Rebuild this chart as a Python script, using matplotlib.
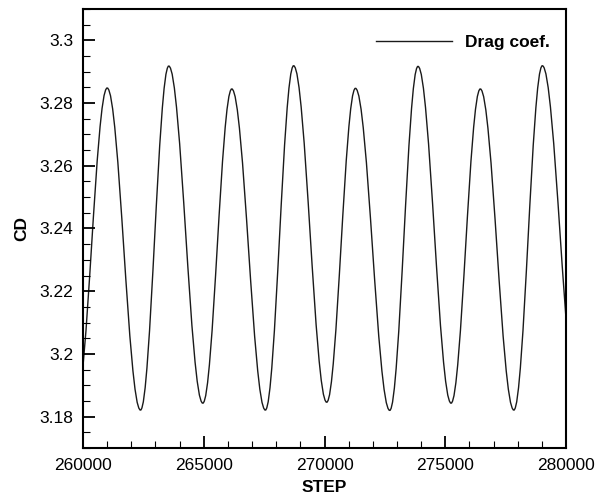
import matplotlib
matplotlib.use("Agg")
import matplotlib.pyplot as plt
from matplotlib.path import Path
from matplotlib.patches import PathPatch
from matplotlib.lines import Line2D
from matplotlib.ticker import MultipleLocator

plt.rcParams["font.family"] = ["Liberation Sans", "DejaVu Sans"]

# extrema of the drag coefficient
# (first and last trough lie just outside the plotted range)
peak_steps = [261000, 263550, 266160, 268720, 271280, 273870, 276450, 279020]
peak_cd = [3.2848, 3.2918, 3.2845, 3.2919, 3.2847, 3.2917, 3.2845, 3.2919]
trough_steps = [259710, 262380, 264960, 267550, 270090, 272700, 275240, 277840, 280490]
trough_cd = [3.1843, 3.1821, 3.1843, 3.1821, 3.1846, 3.1820, 3.1843, 3.1821, 3.1843]

x_ticks = [260000, 265000, 270000, 275000, 280000]
y_ticks = [3.18, 3.2, 3.22, 3.24, 3.26, 3.28, 3.3]
y_labels = ["3.18", "3.2", "3.22", "3.24", "3.26", "3.28", "3.3"]

FS = 12.5
LC = "#1a1a1a"

fig = plt.figure(figsize=(5.96, 5.0), dpi=100)
ax = fig.add_axes([0.1393, 0.104, 0.8104, 0.878])

# smooth curve through the extrema (cubic segments with flat tangents)
nodes = sorted(zip(peak_steps + trough_steps, peak_cd + trough_cd))
verts = [nodes[0]]
codes = [Path.MOVETO]
K = 0.364
for (x0, y0), (x1, y1) in zip(nodes[:-1], nodes[1:]):
    dx = x1 - x0
    verts += [(x0 + K * dx, y0), (x1 - K * dx, y1), (x1, y1)]
    codes += [Path.CURVE4] * 3
ax.add_patch(PathPatch(Path(verts, codes), fill=False, edgecolor=LC, lw=1.0))

ax.set_xlim(260000, 280000)
ax.set_ylim(3.17, 3.31)
ax.set_xticks(x_ticks)
ax.set_xticklabels([str(t) for t in x_ticks])
ax.set_yticks(y_ticks)
ax.set_yticklabels(y_labels)
ax.xaxis.set_minor_locator(MultipleLocator(1000))
ax.yaxis.set_minor_locator(MultipleLocator(0.005))
ax.tick_params(which="both", direction="in", top=False, right=False,
               labelsize=FS, pad=7, colors="black")
ax.tick_params(which="major", length=8.3, width=1.3)
ax.tick_params(which="minor", length=4.8, width=0.8)
for s in ax.spines.values():
    s.set_linewidth(1.5)

ax.set_xlabel("STEP", fontsize=FS, fontweight="bold", labelpad=5)
ax.set_ylabel("CD", fontsize=FS, fontweight="bold", labelpad=7)

handle = Line2D([], [], color=LC, lw=1.0)
ax.legend([handle], ["Drag coef."], loc="center left",
          bbox_to_anchor=(0.6066, 0.9248), frameon=False,
          borderpad=0, borderaxespad=0, handlelength=4.4, handletextpad=0.75,
          prop={"size": FS, "weight": "bold"})

fig.savefig("out.png", dpi=100)
